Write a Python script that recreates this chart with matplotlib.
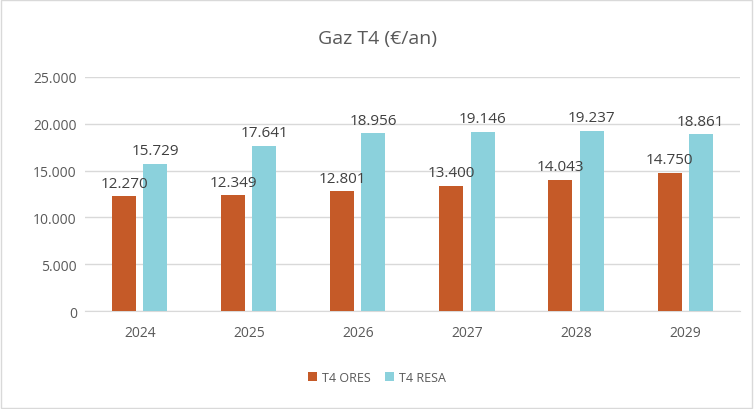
import numpy as np
import matplotlib.pyplot as plt
from matplotlib.ticker import FuncFormatter
from matplotlib.patches import Rectangle

# --- DATA ---
years = ["2024", "2025", "2026", "2027", "2028", "2029"]
t4_ores = [12270, 12349, 12801, 13400, 14043, 14750]
t4_resa = [15729, 17641, 18956, 19146, 19237, 18861]
y_ticks = [0, 5000, 10000, 15000, 20000, 25000]

ORES_COLOR = "#C55A28"
RESA_COLOR = "#8BD1DC"
TEXT_COLOR = "#595959"

plt.rcParams['font.family'] = ['Open Sans', 'DejaVu Sans']


def fmt_thousands(v, pos=None):
    return f"{int(round(v)):,}".replace(",", ".")


fig = plt.figure(figsize=(7.54, 4.10), dpi=100)
fig.patches.append(Rectangle((0.001, 0.002), 0.997, 0.995, transform=fig.transFigure,
                             fill=False, edgecolor="#D9D9D9", linewidth=1))

ax = fig.add_axes([0.113, 0.239, 0.868, 0.571])

x = np.arange(len(years))
width = 0.22
offset = 0.143

bars_ores = ax.bar(x - offset, t4_ores, width, color=ORES_COLOR, label="T4 ORES", zorder=3)
bars_resa = ax.bar(x + offset, t4_resa, width, color=RESA_COLOR, label="T4 RESA", zorder=3)

for bars in (bars_ores, bars_resa):
    for b in bars:
        ax.annotate(fmt_thousands(b.get_height()),
                    (b.get_x() + b.get_width() / 2, b.get_height()),
                    xytext=(0, 4), textcoords="offset points",
                    ha="center", va="bottom", fontsize=11, color="#404040", zorder=4)

ax.set_xlim(-0.5, len(years) - 0.5)
ax.set_ylim(0, 25000)
ax.set_yticks(y_ticks)
ax.yaxis.set_major_formatter(FuncFormatter(fmt_thousands))
ax.set_xticks(x)
ax.set_xticklabels(years)

ax.grid(axis="y", color="#D9D9D9", linewidth=1, zorder=0)
for side in ("left", "right", "top"):
    ax.spines[side].set_visible(False)
ax.spines["bottom"].set_color("#D9D9D9")
ax.tick_params(axis="both", length=0, colors=TEXT_COLOR, labelsize=10)
ax.tick_params(axis="x", pad=10)
ax.tick_params(axis="y", pad=6)

fig.text(0.5, 0.905, "Gaz T4 (€/an)", ha="center", va="center", fontsize=14, color=TEXT_COLOR)

fig.legend(handles=[bars_ores, bars_resa], loc="center", bbox_to_anchor=(0.5, 0.078),
           ncol=2, frameon=False, fontsize=9, handlelength=0.7, handleheight=0.7,
           columnspacing=1.2, handletextpad=0.4, labelcolor=TEXT_COLOR)

fig.savefig("out.png", dpi=100)
